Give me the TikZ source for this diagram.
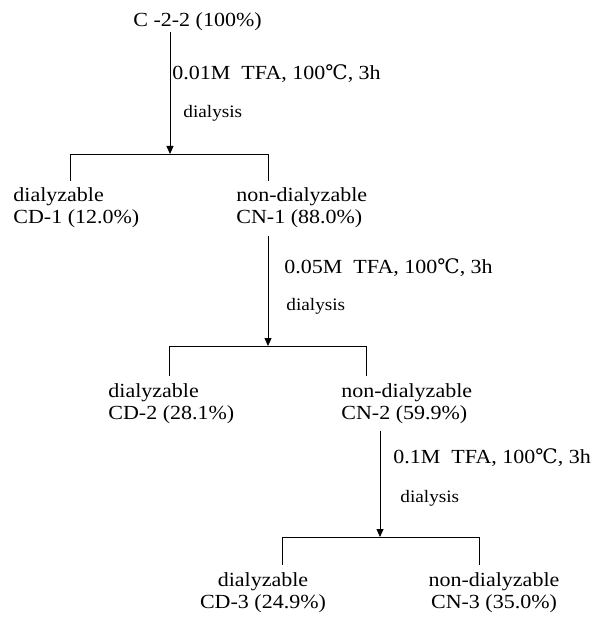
\documentclass[tikz,border=0pt]{standalone}
\usepackage{fontspec}
\setmainfont{Liberation Serif}[FakeStretch=1.1]
\newfontfamily\symfont{DejaVu Serif}
\usetikzlibrary{arrows.meta}
\newcommand{\degC}{{\symfont ℃}}
\newcommand{\lblfont}{\fontsize{20}{22}\selectfont}
\newcommand{\diafont}{\fontsize{17.5}{20}\selectfont}
\begin{document}
\begin{tikzpicture}[x=1pt, y=-1pt, line width=0.8pt,
    lbl/.style={inner xsep=0pt, inner ysep=7pt, font=\lblfont},
    hyd/.style={inner sep=0pt, anchor=base west, font=\lblfont},
    dia/.style={inner sep=0pt, anchor=base west, font=\diafont},
    arr/.style={-{Triangle[length=8pt, width=7pt]}}]
  \useasboundingbox (0, 0) rectangle (603, 617) ;
  % start
  \node[inner sep=0pt, anchor=base west, font=\lblfont] (c22) at (133, 27) {C -2-2 (100\%)} ;
  % step 1
  \node[hyd] (hyd1) at (172, 80) {0.01M\ \ TFA, 100\degC, 3h} ;
  \node[dia] (dia1) at (183, 118) {dialysis} ;
  \coordinate (j1) at (170, 154) ;
  \coordinate (l1) at (70, 154) ;
  \coordinate (r1) at (268, 154) ;
  \node[lbl, align=left, anchor=base west] (cd1) at (13, 224) {dialyzable\\CD-1 (12.0\%)} ;
  \node[lbl, align=left, anchor=base west] (cn1) at (236, 224) {non-dialyzable\\CN-1 (88.0\%)} ;
  \draw[arr] (c22.south -| j1) -- (j1) ;
  \draw (cd1.north -| l1) -- (l1) -- (r1) -- (cn1.north -| r1) ;
  % step 2
  \node[hyd] (hyd2) at (284, 273) {0.05M\ \ TFA, 100\degC, 3h} ;
  \node[dia] (dia2) at (286, 310) {dialysis} ;
  \coordinate (j2) at (268, 346) ;
  \coordinate (l2) at (169, 346) ;
  \coordinate (r2) at (366, 346) ;
  \node[lbl, align=left, anchor=base west] (cd2) at (108, 419) {dialyzable\\CD-2 (28.1\%)} ;
  \node[lbl, align=left, anchor=base west] (cn2) at (341, 419) {non-dialyzable\\CN-2 (59.9\%)} ;
  \draw[arr] (cn1.south -| j2) -- (j2) ;
  \draw (cd2.north -| l2) -- (l2) -- (r2) -- (cn2.north -| r2) ;
  % step 3
  \node[hyd] (hyd3) at (393, 463) {0.1M\ \ TFA, 100\degC, 3h} ;
  \node[dia] (dia3) at (400, 502) {dialysis} ;
  \coordinate (j3) at (380, 537) ;
  \coordinate (l3) at (282, 537) ;
  \coordinate (r3) at (479, 537) ;
  \node[lbl, align=center, anchor=base] (cd3) at (263, 608) {dialyzable\\CD-3 (24.9\%)} ;
  \node[lbl, align=center, anchor=base] (cn3) at (494, 608) {non-dialyzable\\CN-3 (35.0\%)} ;
  \draw[arr] (cn2.south -| j3) -- (j3) ;
  \draw (cd3.north -| l3) -- (l3) -- (r3) -- (cn3.north -| r3) ;
\end{tikzpicture}
\end{document}
